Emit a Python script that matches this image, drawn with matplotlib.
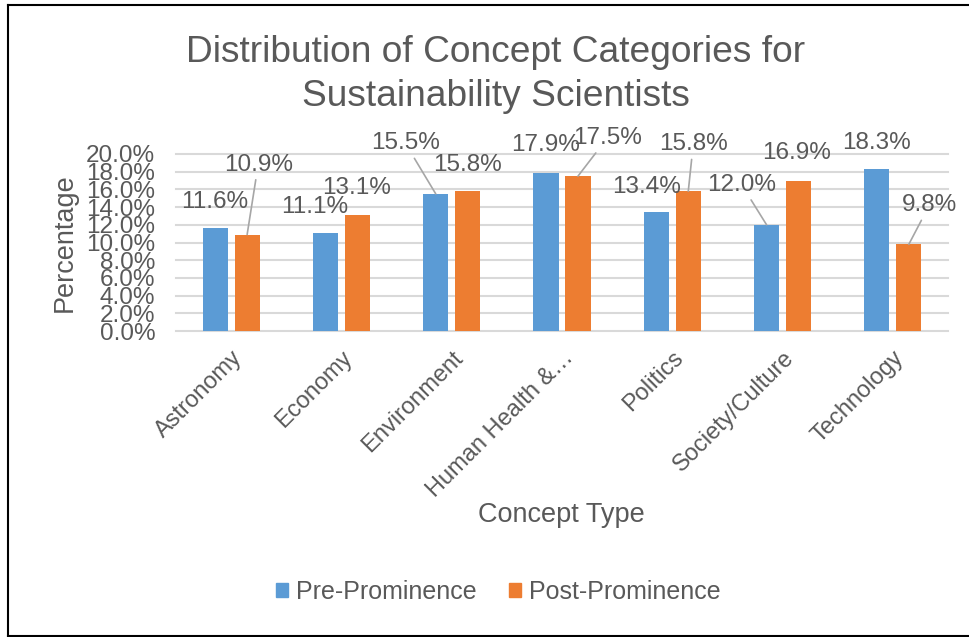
import matplotlib
matplotlib.use("Agg")
import matplotlib.pyplot as plt
import matplotlib.transforms as mtransforms
from matplotlib.lines import Line2D
from matplotlib.patches import Patch
import numpy as np

plt.rcParams['font.family'] = ['Liberation Sans', 'DejaVu Sans']

categories = ['Astronomy', 'Economy', 'Environment', 'Human Health &\u2026',
              'Politics', 'Society/Culture', 'Technology']
pre_prominence = [11.6, 11.1, 15.5, 17.9, 13.4, 12.0, 18.3]
post_prominence = [10.9, 13.1, 15.8, 17.5, 15.8, 16.9, 9.8]

# label positions (data coords) for the hand-placed data labels
pre_label_pos = [(-0.145, 14.6), (0.76, 14.0), (1.58, 21.2), (2.85, 21.0),
                 (3.77, 16.3), (4.63, 16.5), (5.85, 21.2)]
post_label_pos = [(0.245, 18.8), (1.14, 16.2), (2.14, 18.8), (3.41, 21.8),
                  (4.19, 21.1), (5.13, 20.1), (6.33, 14.2)]
pre_leader = [False, False, True, False, False, True, False]
post_leader = [True, False, False, True, True, False, True]

BLUE = '#5B9BD5'
ORANGE = '#ED7D31'
TEXT = '#595959'
GRID = '#D9D9D9'

fig = plt.figure(figsize=(9.7, 6.37), dpi=100)
ax = fig.add_axes([176 / 970, 1 - 331 / 637, 772 / 970, 177 / 637])

x = np.arange(len(categories))
offset = 0.145
width = 0.227
ax.bar(x - offset, pre_prominence, width, color=BLUE, zorder=3)
ax.bar(x + offset, post_prominence, width, color=ORANGE, zorder=3)

ax.set_xlim(-0.5, len(categories) - 0.5)
ax.set_ylim(0, 20)
ax.set_yticks(np.arange(0, 20.1, 2))
ax.set_yticklabels([f'{v:.1f}%' for v in np.arange(0, 20.1, 2)])
ax.grid(axis='y', color=GRID, linewidth=1.5, zorder=0)
for gl in ax.get_ygridlines():
    gl.set_clip_on(False)
for s in ax.spines.values():
    s.set_visible(False)
ax.tick_params(axis='y', length=0, pad=15, labelsize=17.5, labelcolor=TEXT)
ax.tick_params(axis='x', length=0, pad=17, labelsize=17, labelcolor=TEXT)
ax.set_xticks(x)
ax.set_xticklabels(categories, rotation=45, ha='right', va='center',
                   rotation_mode='anchor')
shift = mtransforms.ScaledTranslation(8 / 100, 0, fig.dpi_scale_trans)
for lbl in ax.get_xticklabels():
    lbl.set_transform(lbl.get_transform() + shift)

# data labels, some with grey leader lines back to the bar
for vals, pos, lead, dx in [(pre_prominence, pre_label_pos, pre_leader, -offset),
                            (post_prominence, post_label_pos, post_leader, offset)]:
    for i, v in enumerate(vals):
        lx, ly = pos[i]
        if lead[i]:
            ax.annotate(f'{v:.1f}%', xy=(i + dx, v), xytext=(lx, ly),
                        ha='center', va='center', fontsize=17.5, color=TEXT,
                        arrowprops=dict(arrowstyle='-', color='#A6A6A6', lw=1.2,
                                        shrinkA=1, shrinkB=0),
                        annotation_clip=False, zorder=4)
        else:
            ax.text(lx, ly, f'{v:.1f}%', ha='center', va='center',
                    fontsize=17.5, color=TEXT, zorder=4)

fig.text(496 / 970, 1 - 52 / 637, 'Distribution of Concept Categories for',
         ha='center', va='center', fontsize=26.7, color=TEXT)
fig.text(496 / 970, 1 - 97 / 637, 'Sustainability Scientists',
         ha='center', va='center', fontsize=26.7, color=TEXT)
fig.text(65 / 970, 1 - 243 / 637, 'Percentage', rotation=90,
         ha='center', va='center', fontsize=19.5, color=TEXT)
fig.text(561 / 970, 1 - 515 / 637, 'Concept Type',
         ha='center', va='center', fontsize=19.5, color=TEXT)

handles = [Patch(color=BLUE, label='Pre-Prominence'),
           Patch(color=ORANGE, label='Post-Prominence')]
fig.legend(handles=handles, loc='center', bbox_to_anchor=(498 / 970, 1 - 592 / 637),
           ncol=2, frameon=False, fontsize=18, labelcolor=TEXT,
           handlelength=0.5, handleheight=0.5, handletextpad=0.3, columnspacing=1.3)

# outer frame: left, top and bottom edges
frame = dict(color='black', linewidth=1.5, transform=fig.transFigure)
fig.add_artist(Line2D([8 / 970, 8 / 970], [1 - 636 / 637, 1 - 5 / 637], **frame))
fig.add_artist(Line2D([8 / 970, 1], [1 - 5 / 637, 1 - 5 / 637], **frame))
fig.add_artist(Line2D([8 / 970, 1], [1 - 636 / 637, 1 - 636 / 637], **frame))

fig.savefig('out.png', dpi=100, facecolor='white')
